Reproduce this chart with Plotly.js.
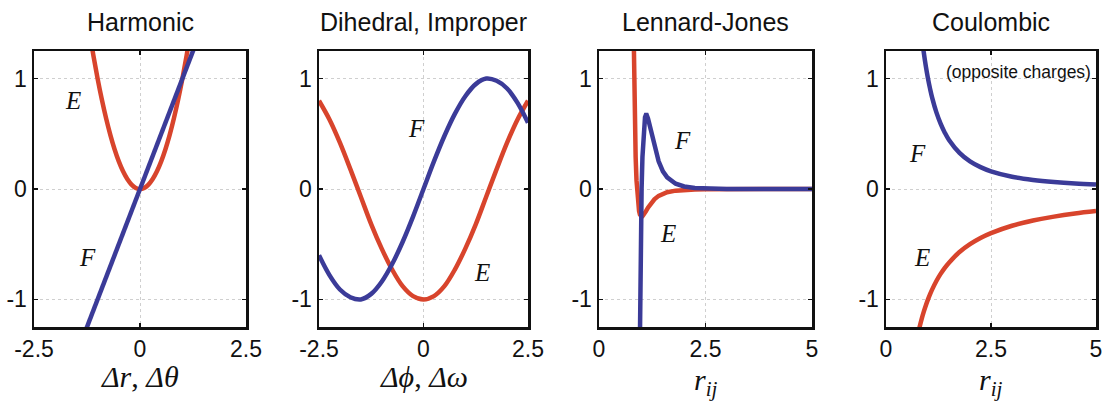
<!DOCTYPE html>
<html>
<head>
<meta charset="utf-8">
<script src="https://cdn.plot.ly/plotly-3.0.1.min.js"></script>
<style>
  html, body { margin: 0; padding: 0; background: #fff; }
  #chart { width: 1104px; height: 404px; }
</style>
</head>
<body>
<div id="chart"></div>
<script>
// Panel titles and axis labels
const panelTitles = ['Harmonic', 'Dihedral, Improper', 'Lennard-Jones', 'Coulombic'];
const axisLabels = [
  '<i>Δr</i>, <i>Δθ</i>',
  '<i>Δϕ</i>, <i>Δω</i>',
  '<i>r</i><sub><i>ij</i></sub>',
  '<i>r</i><sub><i>ij</i></sub>'
];
const axisLabelY = [376, 376, 382, 382];
const xTickVals = [[-2.5, 0, 2.5], [-2.5, 0, 2.5], [0, 2.5, 5], [0, 2.5, 5]];
const xTickText = [['-2.5', '0', '2.5'], ['-2.5', '0', '2.5'], ['0', '2.5', '5'], ['0', '2.5', '5']];
const yTickVals = [-1, 0, 1];
const yTickText = ['-1', '0', '1'];

// Harmonic: energy and force versus displacement
const harmX = [-1.3, -1.2, -1.1, -1.0, -0.9, -0.8, -0.7, -0.6, -0.5, -0.4, -0.3, -0.2, -0.1, 0,
               0.1, 0.2, 0.3, 0.4, 0.5, 0.6, 0.7, 0.8, 0.9, 1.0, 1.1, 1.2, 1.3];
const harmE = [1.69, 1.44, 1.21, 1.00, 0.81, 0.64, 0.49, 0.36, 0.25, 0.16, 0.09, 0.04, 0.01, 0,
               0.01, 0.04, 0.09, 0.16, 0.25, 0.36, 0.49, 0.64, 0.81, 1.00, 1.21, 1.44, 1.69];
const harmFX = [-1.4, 0, 1.4];
const harmF = [-1.4, 0, 1.4];

// Dihedral / improper: periodic energy and force
const diheX = [-2.5, -2.25, -2.0, -1.75, -1.5, -1.25, -1.0, -0.75, -0.5, -0.25, 0,
               0.25, 0.5, 0.75, 1.0, 1.25, 1.5, 1.75, 2.0, 2.25, 2.5];
const diheE = [0.80, 0.63, 0.42, 0.18, -0.07, -0.32, -0.54, -0.73, -0.88, -0.97, -1.0,
               -0.97, -0.88, -0.73, -0.54, -0.32, -0.07, 0.18, 0.42, 0.63, 0.80];
const diheF = [-0.60, -0.78, -0.91, -0.98, -1.0, -0.95, -0.84, -0.68, -0.48, -0.25, 0,
               0.25, 0.48, 0.68, 0.84, 0.95, 1.0, 0.98, 0.91, 0.78, 0.60];

// Lennard-Jones: energy and force versus separation
const ljEX = [0.80, 0.82, 0.84, 0.86, 0.88, 0.90, 0.92, 0.94, 0.96, 0.98, 1.00, 1.02, 1.05, 1.10,
              1.15, 1.2, 1.3, 1.4, 1.5, 1.6, 1.8, 2.0, 2.25, 2.5, 3.0, 4.0, 5.0];
const ljE = [1.73, 1.06, 0.60, 0.29, 0.08, -0.056, -0.145, -0.199, -0.231, -0.246, -0.25, -0.248, -0.234, -0.203,
             -0.169, -0.139, -0.093, -0.062, -0.042, -0.029, -0.015, -0.008, -0.004, -0.002, -0.001, 0, 0];
const ljFX = [0.94, 0.95, 0.96, 0.97, 0.98, 0.99, 1.00, 1.02, 1.04, 1.06, 1.08, 1.10, 1.12, 1.15,
              1.2, 1.25, 1.3, 1.4, 1.5, 1.6, 1.8, 2.0, 2.25, 2.5, 3.0, 4.0, 5.0];
const ljF = [-2.08, -1.55, -1.11, -0.74, -0.45, -0.20, 0, 0.29, 0.48, 0.59, 0.65, 0.67, 0.67, 0.64,
             0.56, 0.46, 0.38, 0.25, 0.16, 0.105, 0.048, 0.023, 0.010, 0.005, 0.001, 0, 0];

// Coulombic (opposite charges)
const coulEX = [0.78, 0.8, 0.85, 0.9, 0.95, 1.0, 1.05, 1.1, 1.2, 1.3, 1.4, 1.5, 1.75, 2.0, 2.25,
                2.5, 3.0, 3.5, 4.0, 4.5, 5.0];
const coulE = [-1.282, -1.25, -1.176, -1.111, -1.053, -1.0, -0.952, -0.909, -0.833, -0.769, -0.714,
               -0.667, -0.571, -0.5, -0.444, -0.4, -0.333, -0.286, -0.25, -0.222, -0.2];
const coulFX = [0.85, 0.9, 0.95, 1.0, 1.05, 1.1, 1.2, 1.3, 1.4, 1.5, 1.75, 2.0, 2.25, 2.5, 3.0,
                3.5, 4.0, 4.5, 5.0];
const coulF = [1.384, 1.235, 1.108, 1.0, 0.907, 0.826, 0.694, 0.592, 0.510, 0.444, 0.327, 0.25,
               0.198, 0.16, 0.111, 0.082, 0.0625, 0.049, 0.04];

// Curve-label positions (data units) for E and F in each panel
const labelE = [[-1.58, 0.80], [1.40, -0.76], [1.62, -0.40], [0.86, -0.62]];
const labelF = [[-1.25, -0.62], [-0.16, 0.55], [1.95, 0.44], [0.76, 0.32]];

const RED = '#d8442c';
const BLUE = '#3b3b98';
const W = 1104, H = 404;
const panelPx = [[34, 246], [319, 528], [599, 812], [886, 1096]];
const topPx = 51, botPx = 327;
const xRanges = [[-2.5, 2.5], [-2.5, 2.5], [0, 5], [0, 5]];

const series = [
  { ex: harmX, e: harmE, fx: harmFX, f: harmF, shape: 'spline' },
  { ex: diheX, e: diheE, fx: diheX, f: diheF, shape: 'spline' },
  { ex: ljEX, e: ljE, fx: ljFX, f: ljF, shape: 'linear' },
  { ex: coulEX, e: coulE, fx: coulFX, f: coulF, shape: 'spline' }
];

const traces = [];
const layout = {
  width: W, height: H,
  margin: { l: 0, r: 0, t: 0, b: 0 },
  paper_bgcolor: '#fff', plot_bgcolor: '#fff',
  showlegend: false,
  font: { family: 'Liberation Sans, Arial, sans-serif', color: '#111' },
  annotations: []
};

series.forEach((s, i) => {
  const n = i === 0 ? '' : String(i + 1);
  const xa = 'x' + n, ya = 'y' + n;
  traces.push({ x: s.ex, y: s.e, xaxis: xa, yaxis: ya, mode: 'lines',
    line: { color: RED, width: 4.5, shape: s.shape }, hoverinfo: 'skip' });
  traces.push({ x: s.fx, y: s.f, xaxis: xa, yaxis: ya, mode: 'lines',
    line: { color: BLUE, width: 4.5, shape: s.shape }, hoverinfo: 'skip' });

  const axCommon = {
    showline: true, linecolor: '#111', linewidth: 2.5, mirror: 'ticks',
    ticks: 'inside', ticklen: 4, tickwidth: 1.5, tickcolor: '#111',
    showgrid: true, gridcolor: '#cfcfcf', gridwidth: 1, griddash: 'dot',
    zeroline: false, fixedrange: true,
    tickfont: { size: 23, color: '#111', family: 'Liberation Sans, Arial, sans-serif' }
  };
  layout['xaxis' + n] = Object.assign({}, axCommon, {
    domain: [panelPx[i][0] / W, panelPx[i][1] / W],
    range: xRanges[i], anchor: ya,
    tickmode: 'array', tickvals: xTickVals[i], ticktext: xTickText[i]
  });
  layout['yaxis' + n] = Object.assign({}, axCommon, {
    domain: [1 - botPx / H, 1 - topPx / H],
    range: [-1.25, 1.25], anchor: xa,
    tickmode: 'array', tickvals: yTickVals, ticktext: yTickText
  });

  const cx = (panelPx[i][0] + panelPx[i][1]) / 2 / W;
  layout.annotations.push({
    xref: 'paper', yref: 'paper', x: cx, y: 1 - 22 / H, text: panelTitles[i],
    showarrow: false, xanchor: 'center', yanchor: 'middle',
    font: { size: 25, color: '#111', family: 'Liberation Sans, Arial, sans-serif' }
  });
  layout.annotations.push({
    xref: 'paper', yref: 'paper', x: cx, y: 1 - axisLabelY[i] / H, text: axisLabels[i],
    showarrow: false, xanchor: 'center', yanchor: 'middle',
    font: { size: 30, color: '#111', family: 'Liberation Serif, Times New Roman, serif' }
  });
  [['<i>E</i>', labelE[i]], ['<i>F</i>', labelF[i]]].forEach(([t, p]) => {
    layout.annotations.push({
      xref: xa, yref: ya, x: p[0], y: p[1], text: t, showarrow: false,
      xanchor: 'center', yanchor: 'middle',
      font: { size: 25, color: '#111', family: 'Liberation Serif, Times New Roman, serif' }
    });
  });
});

layout.annotations.push({
  xref: 'x4', yref: 'y4', x: 4.94, y: 1.06, text: '(opposite charges)', showarrow: false,
  xanchor: 'right', yanchor: 'middle',
  font: { size: 17.5, color: '#111', family: 'Liberation Sans, Arial, sans-serif' }
});

Plotly.newPlot('chart', traces, layout, { displayModeBar: false, staticPlot: true });
</script>
</body>
</html>
